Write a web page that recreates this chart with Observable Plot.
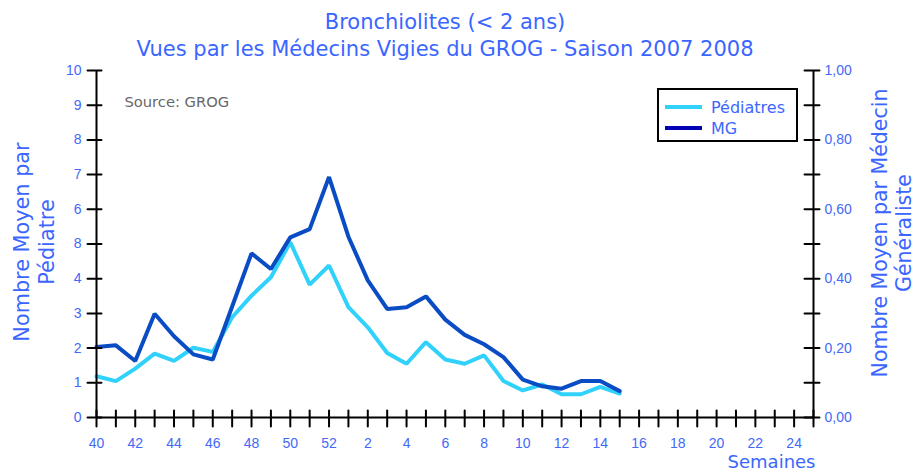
<!DOCTYPE html>
<html><head><meta charset="utf-8">
<script src="https://cdn.jsdelivr.net/npm/d3@7"></script>
<script src="https://cdn.jsdelivr.net/npm/@observablehq/plot@0.6"></script>
<style>
body{margin:0;background:#fff}
#wrap{position:relative;width:916px;height:475px;overflow:hidden}
#legend{position:absolute;left:657px;top:88px;width:137px;height:50px;border:2px solid #000;background:#fff;font-family:"DejaVu Sans";font-size:16px;color:#3d66ff}
.row{position:absolute;left:6px;height:20px;display:flex;align-items:center}
.sw{width:37px;height:4px;margin-right:9px}
</style></head><body><div id="wrap"></div>
<script>
// Week positions on the axis (season week 40 to week 24, then the frame end)
const axisWeeks = [40,41,42,43,44,45,46,47,48,49,50,51,52,1,2,3,4,5,6,7,8,9,10,11,12,13,14,15,16,17,18,19,20,21,22,23,24];
// Weeks with data
const weeks = [40,41,42,43,44,45,46,47,48,49,50,51,52,1,2,3,4,5,6,7,8,9,10,11,12,13,14,15];
// Mean number per pediatrician (left axis)
const pediatres = [1.19,1.05,1.41,1.84,1.63,2.01,1.89,2.89,3.51,4.04,5.05,3.83,4.38,3.18,2.60,1.86,1.55,2.17,1.67,1.55,1.79,1.05,0.78,0.95,0.67,0.67,0.88,0.69];
// Mean number per general practitioner (right axis)
const mg = [0.203,0.208,0.163,0.299,0.234,0.182,0.167,0.320,0.473,0.428,0.519,0.543,0.693,0.521,0.395,0.313,0.318,0.349,0.282,0.238,0.211,0.174,0.109,0.090,0.083,0.105,0.105,0.076];
// Tick labels
const leftTickValues = [0,1,2,3,4,5,6,7,8,9,10];
const leftTickLabels = ["0","1","2","3","4","8","6","7","8","9","10"];
const rightTickValues = [0,0.1,0.2,0.3,0.4,0.5,0.6,0.7,0.8,0.9,1];
const rightLabelValues = [0,0.2,0.4,0.6,0.8,1];
const rightTickLabels = ["0,00","0,20","0,40","0,60","0,80","1,00"];
const xLabelWeeks = [40,42,44,46,48,50,52,2,4,6,8,10,12,14,16,18,20,22,24];

const title1 = "Bronchiolites (< 2 ans)";
const title2 = "Vues par les Médecins Vigies du GROG - Saison 2007 2008";
const leftTitle = "Nombre Moyen par\nPédiatre";
const rightTitle = "Nombre Moyen par Médecin\nGénéraliste";
const xTitle = "Semaines";
const source = "Source: GROG";

const MG_FACTOR = 10; // right axis 0–1 shares the frame with left axis 0–10
const pos = w => axisWeeks.indexOf(w);
const END = axisWeeks.length; // right axis position
const rows = weeks.map((w,i) => ({x: pos(w), ped: pediatres[i], mg: mg[i]}));

const lightC = "#30d2fb", darkC = "#0a4cc4", labelC = "#4468f8", titleC = "#3a66ff";
const seg = {draw(ctx, l){ ctx.moveTo(0,0); ctx.lineTo(0,-l); }};

const chart = Plot.plot({
  width: 916, height: 475,
  marginLeft: 96, marginRight: 103, marginTop: 70, marginBottom: 58,
  x: {type: "linear", domain: [0, END], axis: null},
  y: {domain: [0, 10], axis: null},
  style: {fontFamily: "Liberation Sans", background: "#fff", overflow: "visible"},
  marks: [
    Plot.line(rows, {x: "x", y: "ped", stroke: lightC, strokeWidth: 4, strokeLinejoin: "miter"}),
    Plot.line(rows, {x: "x", y: d => d.mg * MG_FACTOR, stroke: darkC, strokeWidth: 4, strokeLinejoin: "miter"}),
    Plot.ruleY([0], {stroke: "#000", strokeWidth: 2}),
    Plot.ruleX([0], {y1: 0, y2: 10, stroke: "#000", strokeWidth: 2}),
    Plot.ruleX([END], {y1: 0, y2: 10, stroke: "#000", strokeWidth: 2}),
    Plot.vector(d3.range(END + 1), {x: d => d, y: 0, length: 16, anchor: "middle", shape: seg, stroke: "#000", strokeWidth: 2, dy: 1}),
    Plot.vector(leftTickValues, {x: 0, y: d => d, length: 14, rotate: 90, anchor: "middle", shape: seg, stroke: "#000", strokeWidth: 2, dx: -2}),
    Plot.vector(rightTickValues, {x: END, y: d => d * MG_FACTOR, length: 15, rotate: 90, anchor: "middle", shape: seg, stroke: "#000", strokeWidth: 2, dx: -1.5}),
    Plot.text(xLabelWeeks, {x: d => pos(d), y: 0, text: d => String(d), dy: 26, fill: labelC, fontSize: 14}),
    Plot.text(leftTickValues, {x: 0, y: d => d, text: (d,i) => leftTickLabels[i], textAnchor: "end", dx: -15, fill: labelC, fontSize: 14}),
    Plot.text(rightLabelValues, {x: END, y: d => d * MG_FACTOR, text: (d,i) => rightTickLabels[i], textAnchor: "start", dx: 11, fill: labelC, fontSize: 14}),
    Plot.text([title1], {text: d => d, frameAnchor: "top", lineAnchor: "middle", dx: -10, dy: -48, fill: titleC, fontSize: 21, fontFamily: "DejaVu Sans"}),
    Plot.text([title2], {text: d => d, frameAnchor: "top", lineAnchor: "middle", dx: -10, dy: -21, fill: titleC, fontSize: 21, fontFamily: "DejaVu Sans"}),
    Plot.text([leftTitle], {text: d => d, frameAnchor: "left", textAnchor: "middle", lineAnchor: "middle", dx: -63, dy: -2, rotate: -90, lineHeight: 1.2, fill: titleC, fontSize: 20.8, fontFamily: "DejaVu Sans"}),
    Plot.text([rightTitle], {text: d => d, frameAnchor: "right", textAnchor: "middle", lineAnchor: "middle", dx: 78, dy: -11, rotate: -90, lineHeight: 1.13, fill: titleC, fontSize: 20.5, fontFamily: "DejaVu Sans"}),
    Plot.text([xTitle], {text: d => d, frameAnchor: "bottom-right", textAnchor: "end", dx: 2, dy: 50, fill: titleC, fontSize: 18, fontFamily: "DejaVu Sans"}),
    Plot.text([source], {text: d => d, frameAnchor: "top-left", textAnchor: "start", dx: 28, dy: 26, fill: "#666", fontSize: 14.7, fontFamily: "DejaVu Sans"})
  ]
});
const wrap = document.getElementById("wrap");
wrap.appendChild(chart);

const legendItems = [{label: "Pédiatres", color: lightC}, {label: "MG", color: "#0000b4"}];
const lg = document.createElement("div");
lg.id = "legend";
legendItems.forEach((it, i) => {
  const r = document.createElement("div");
  r.className = "row";
  r.style.top = (7 + i * 21) + "px";
  const s = document.createElement("div");
  s.className = "sw"; s.style.background = it.color;
  const t = document.createElement("span");
  t.textContent = it.label;
  r.appendChild(s); r.appendChild(t);
  lg.appendChild(r);
});
wrap.appendChild(lg);
</script></body></html>
